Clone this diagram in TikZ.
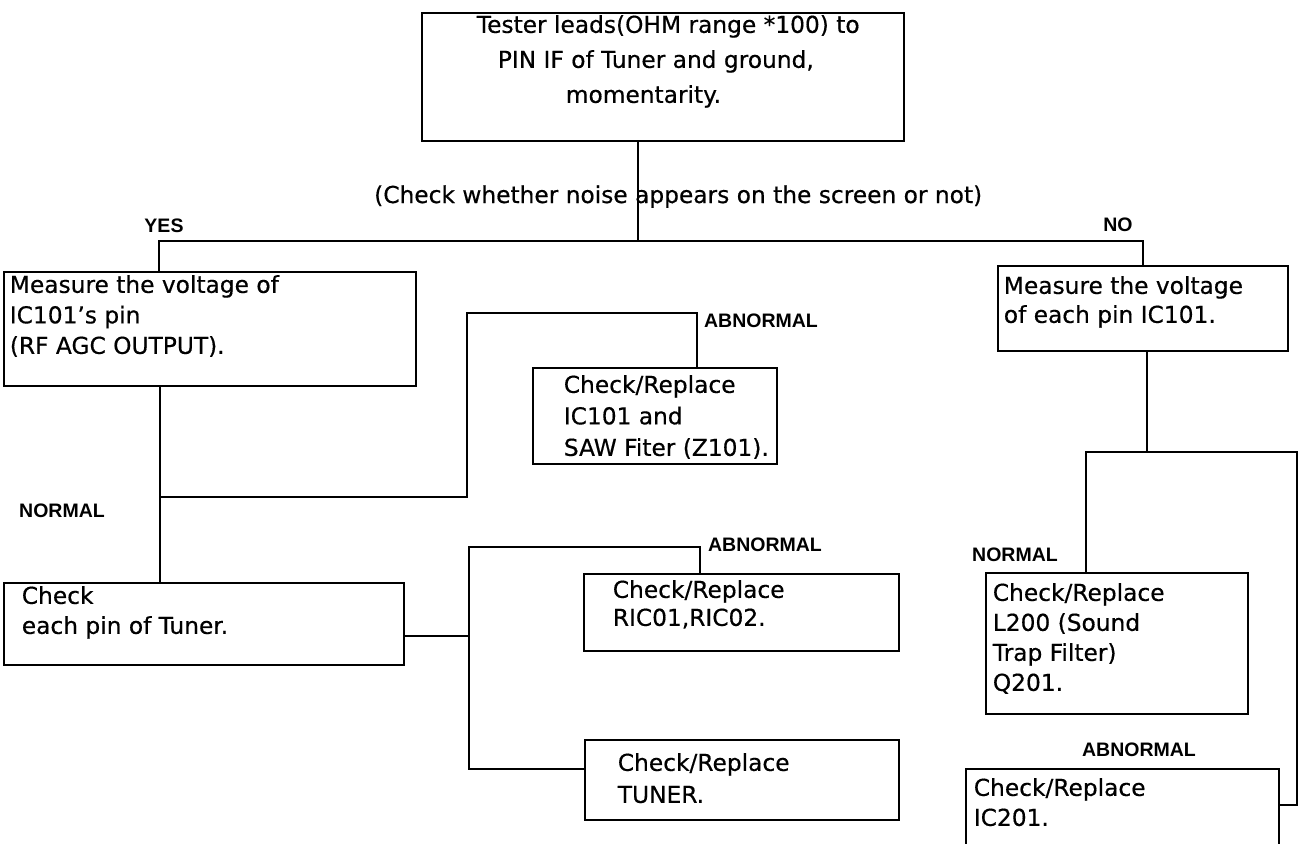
\documentclass[tikz,border=0pt]{standalone}
\usepackage{fontspec}
\setmainfont{DejaVu Sans}[FakeBold=0.5]
\newfontfamily\labfont{Liberation Sans}
\newcommand\bxt[5]{\parbox[t][#2][t]{#1}{\raggedright\leftskip=#4\relax\rule{0pt}{#3}#5}}
\begin{document}
\begin{tikzpicture}[x=1pt,y=-1pt,
  box/.style={draw,line width=1.7pt,inner sep=0pt,anchor=north west},
  lab/.style={font=\labfont\bfseries\fontsize{19.5}{22}\selectfont,inner sep=0pt},
  wire/.style={line width=1.6pt}]
\clip (0,0) rectangle (1303,843);
% boxes
\node[box,font=\fontsize{23.3}{35}\selectfont] (top) at (421,12)
  {\bxt{482pt}{128pt}{20pt}{55pt}{Tester leads(OHM range *100) to\\\hspace*{21pt}PIN IF of Tuner and ground,\\\hspace*{89pt}momentarity.}};
\node[box,font=\fontsize{23.3}{30.5}\selectfont] (mleft) at (3,271)
  {\bxt{412pt}{114pt}{21pt}{6pt}{Measure the voltage of\\IC101's pin\\(RF AGC OUTPUT).}};
\node[box,font=\fontsize{23.3}{31.5}\selectfont] (saw) at (532,367)
  {\bxt{244pt}{96pt}{25pt}{31pt}{Check/Replace\\IC101 and\\SAW Fiter (Z101).}};
\node[box,font=\fontsize{23.3}{30}\selectfont] (chk) at (3,582)
  {\bxt{400pt}{82pt}{21pt}{18pt}{Check\\each pin of Tuner.}};
\node[box,font=\fontsize{23.3}{28}\selectfont] (ric) at (583,573)
  {\bxt{315pt}{77pt}{24pt}{29pt}{Check/Replace\\RIC01,RIC02.}};
\node[box,font=\fontsize{23.3}{32}\selectfont] (tuner) at (584,739)
  {\bxt{314pt}{80pt}{31pt}{33pt}{Check/Replace\\TUNER.}};
\node[box,font=\fontsize{23.3}{29}\selectfont] (mright) at (997,265)
  {\bxt{290pt}{85pt}{28pt}{6pt}{Measure the voltage\\of each pin IC101.}};
\node[box,font=\fontsize{23.3}{30}\selectfont] (l200) at (985,572)
  {\bxt{262pt}{141pt}{28pt}{7pt}{Check/Replace\\L200 (Sound\\Trap Filter)\\Q201.}};
\node[box,font=\fontsize{23.3}{30}\selectfont] (ic201) at (965,768)
  {\bxt{313pt}{90pt}{27pt}{8pt}{Check/Replace\\IC201.}};
% question text and labels
\node[font=\fontsize{23.3}{28}\selectfont,inner sep=0pt,anchor=base west] (q) at (374,203)
  {(Check whether noise appears on the screen or not)};
\node[lab] (yes) at (164,226) {YES};
\node[lab] (no) at (1118,225) {NO};
\node[lab] (ab1) at (761,321) {ABNORMAL};
\node[lab] (nm1) at (62,511) {NORMAL};
\node[lab] (ab2) at (765,545) {ABNORMAL};
\node[lab] (nm2) at (1015,555) {NORMAL};
\node[lab] (ab3) at (1139,750) {ABNORMAL};
% junction coordinates
\coordinate (j) at (638,241);
\coordinate (yc) at (159,241);
\coordinate (nc) at (1143,241);
\coordinate (a1) at (160,497);
\coordinate (b1) at (467,313);
\coordinate (b2) at (697,313);
\coordinate (c0) at (469,636);
\coordinate (c1) at (469,547);
\coordinate (c2) at (700,547);
\coordinate (c3) at (469,769);
\coordinate (d1) at (1147,452);
\coordinate (d2) at (1086,452);
\coordinate (d3) at (1297,452);
\coordinate (d4) at (1297,805);
% connectors
\draw[wire] (j |- top.south) -- (j);
\draw[wire] (yc |- mleft.north) -- (yc) -- (nc) -- (nc |- mright.north);
\draw[wire] (a1 |- mleft.south) -- (a1 |- chk.north);
\draw[wire] (a1) -| (b1) -- (b2) -- (b2 |- saw.north);
\draw[wire] (chk.east |- c0) -- (c0);
\draw[wire] (c2 |- ric.north) -- (c2) -- (c1) -- (c3) -- (c3 -| tuner.west);
\draw[wire] (d1 |- mright.south) -- (d1);
\draw[wire] (d2 |- l200.north) -- (d2) -- (d3) -- (d4) -- (d4 -| ic201.east);
\end{tikzpicture}
\end{document}
